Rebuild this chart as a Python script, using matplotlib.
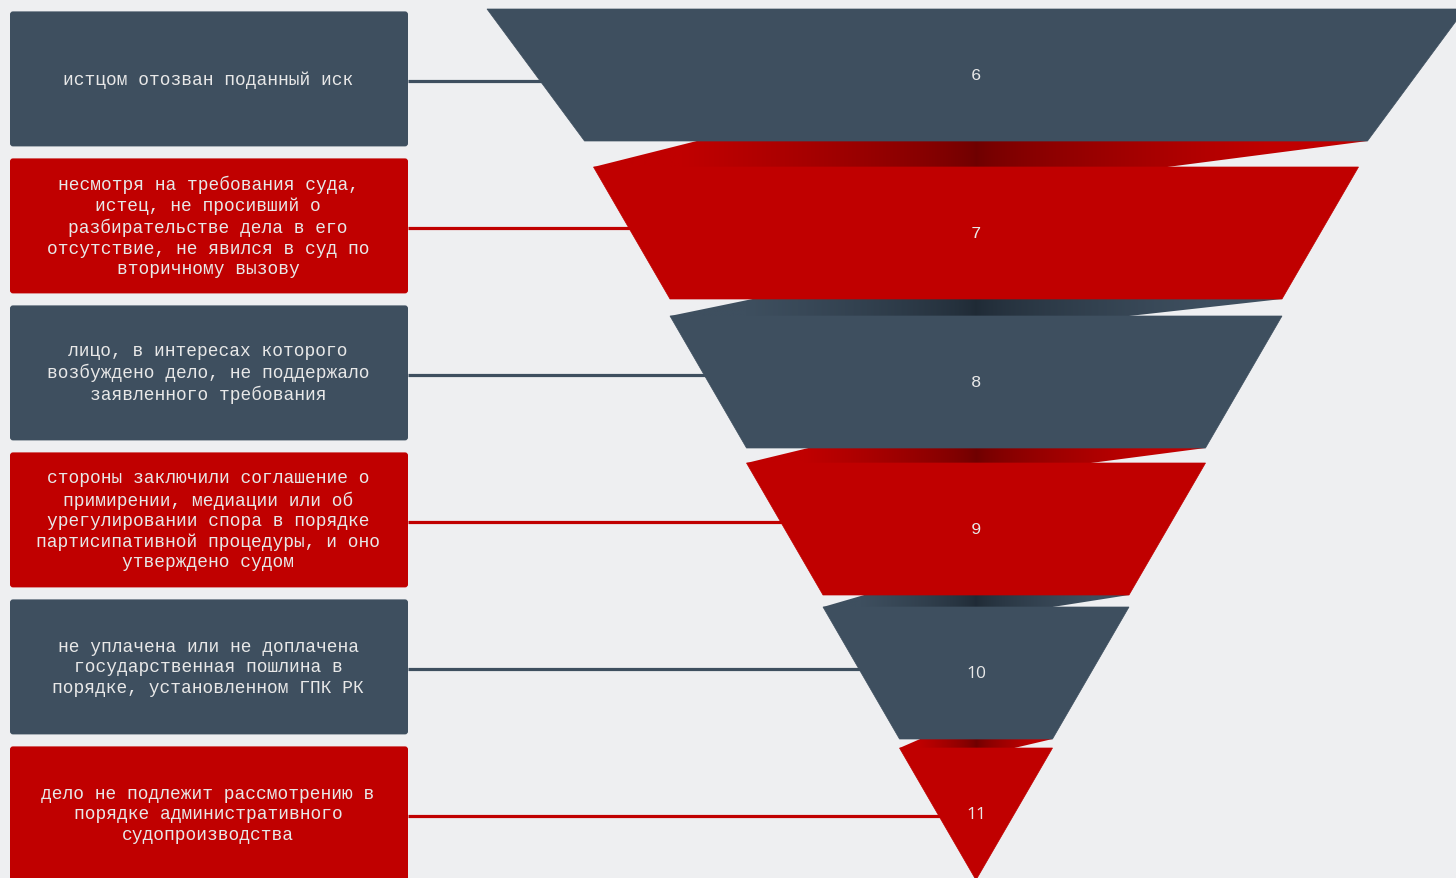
import numpy as np
import matplotlib
matplotlib.use("Agg")
import matplotlib.pyplot as plt
from matplotlib.patches import Polygon, FancyBboxPatch
from matplotlib.colors import to_rgb

# ---------------- data ----------------
labels = [
    "истцом отозван поданный иск",
    "несмотря на требования суда,\nистец, не просивший о\nразбирательстве дела в его\nотсутствие, не явился в суд по\nвторичному вызову",
    "лицо, в интересах которого\nвозбуждено дело, не поддержало\nзаявленного требования",
    "стороны заключили соглашение о\nпримирении, медиации или об\nурегулировании спора в порядке\nпартисипативной процедуры, и оно\nутверждено судом",
    "не уплачена или не доплачена\nгосударственная пошлина в\nпорядке, установленном ГПК РК",
    "дело не подлежит рассмотрению в\nпорядке административного\nсудопроизводства",
]
values = [6, 7, 8, 9, 10, 11]
series_colors = ["slate", "red", "slate", "red", "slate", "red"]

# ---------------- style / layout ----------------
BG = "#eeeff1"
COL = {"slate": "#3e4f5f", "red": "#c00000"}
DARK = {"slate": "#1f2a35", "red": "#6e0000"}
TEXT_COL = "#e8e8e8"

W, H = 1456, 879
BOX_X0, BOX_X1 = 10, 408
BOX_TOP0, BOX_PITCH, BOX_H = 12.4, 147.0, 135
CX = 976                 # funnel centre
STEP = 76.5              # half-width lost per segment
FRONT_H = 132
GAPS = [0, 26, 17, 15, 12, 9]
FIRST_TOP_EXTRA, FIRST_BOT_EXTRA = 30, 9
BACK_L_FRAC, INNER_R_FRAC = 0.135, 0.75

fig = plt.figure(figsize=(W / 100, H / 100), dpi=100)
fig.patch.set_facecolor(BG)
ax = fig.add_axes([0, 0, 1, 1])
ax.set_facecolor(BG)
ax.axis("off")

n = len(values)
ytop = []
y = 10
for i in range(n):
    y += GAPS[i]
    ytop.append(y)
    y += FRONT_H

prev_bot_right = None
prev_bot_y = None
for i, (lab, val, ck) in enumerate(zip(labels, values, series_colors)):
    c = COL[ck]
    # left box
    by0 = BOX_TOP0 + i * BOX_PITCH
    box = FancyBboxPatch((BOX_X0, by0), BOX_X1 - BOX_X0, BOX_H,
                         boxstyle="round,pad=0,rounding_size=3",
                         fc=c, ec="none", zorder=3)
    ax.add_patch(box)
    ax.text((BOX_X0 + BOX_X1) / 2 - 1, by0 + BOX_H / 2, lab, ha="center",
            va="center", color=TEXT_COL, fontsize=12.9,
            family="Liberation Mono", linespacing=1.26, zorder=5)

    # funnel front
    yt = ytop[i]
    yb = yt + FRONT_H
    hw_t = STEP * (n - i)
    hw_b = STEP * (n - i - 1)
    if i == 0:
        hw_t += FIRST_TOP_EXTRA
        hw_b += FIRST_BOT_EXTRA
    front = Polygon([(CX - hw_t, yt), (CX + hw_t, yt), (CX + hw_b, yb),
                     (CX - hw_b, yb)], closed=True, fc=c, ec=c, lw=0.5,
                    zorder=3)
    ax.add_patch(front)

    # connector
    ly = by0 + BOX_H / 2 + 2
    ax.plot([BOX_X1, CX], [ly, ly], color=c, lw=2.3, zorder=1,
            solid_capstyle="butt")

    # top face (gradient)
    if i > 0:
        xl, xr = CX - hw_t, CX + hw_t
        wdt = xr - xl
        pts = [(xl, yt), (xl + BACK_L_FRAC * wdt, prev_bot_y),
               (prev_bot_right, prev_bot_y), (xl + INNER_R_FRAC * wdt, yt)]
        face = Polygon(pts, closed=True, fc="none", ec="none")
        ax.add_patch(face)
        x0, x1 = xl, prev_bot_right
        xs = np.linspace(x0, x1, 400)
        hwb = prev_bot_right - CX
        t = np.clip(np.abs(xs - CX) / hwb / 0.75, 0, 1) ** 0.7
        e = np.array(to_rgb(c))
        d = np.array(to_rgb(DARK[ck]))
        img = d[None, :] + (e - d)[None, :] * t[:, None]
        im = ax.imshow(img[None, :, :], extent=(x0, x1, yt, prev_bot_y),
                       aspect="auto", zorder=2, interpolation="bilinear")
        im.set_clip_path(face)

    # value label
    fam = "Liberation Mono" if len(str(val)) == 1 else "Open Sans"
    ax.text(CX, (yt + yb) / 2, str(val), ha="center", va="center",
            color=TEXT_COL, fontsize=12.5, family=fam, zorder=5)

    prev_bot_right = CX + hw_b
    prev_bot_y = yb

ax.set_xlim(0, W)
ax.set_ylim(H, 0)
fig.savefig("out.png", dpi=100, facecolor=BG)
